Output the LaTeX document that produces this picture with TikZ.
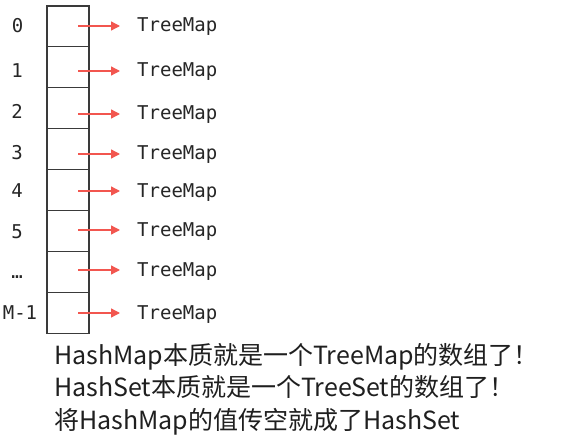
\documentclass[tikz,border=0pt]{standalone}
\usepackage{fontspec}
\setmonofont{DejaVu Sans Mono}
\newfontfamily\cjk{Noto Sans CJK SC}
\usepackage{xcolor}
\usepackage{tikz}
\usetikzlibrary{arrows.meta,positioning,calc}

\definecolor{cellgray}{HTML}{3A3A3A}
\definecolor{txtgray}{HTML}{262626}
\definecolor{ptrred}{HTML}{F2564F}

\tikzset{
	cell/.style={draw=cellgray, line width=1.2pt, fill=white, minimum width=42pt, minimum height=40.9pt, inner sep=0pt, outer sep=0pt},
	idx/.style={font=\ttfamily\fontsize{19}{19}\selectfont, text=txtgray, inner sep=0pt, text height=12pt, text depth=0pt},
	tmap/.style={font=\ttfamily\fontsize{19}{19}\selectfont, text=txtgray, inner sep=0pt, text height=12pt, text depth=0pt, anchor=west},
	ptr/.style={draw=ptrred, line width=1.3pt, -{Triangle[length=9pt,width=9pt]}, shorten <=10pt, shorten >=17pt},
	note/.style={font=\cjk\fontsize{25}{25}\selectfont, text=black!88, inner sep=0pt, anchor=base west}
}

\begin{document}
\begin{tikzpicture}[x=1pt, y=-1pt]
		\useasboundingbox[fill=white] (0,0) rectangle (565,441);
		% bucket array
		\node[cell] (c0) at (68,26.45) {};
		\node[cell] (c1) at (68,67.35) {};
		\node[cell] (c2) at (68,108.25) {};
		\node[cell] (c3) at (68,149.15) {};
		\node[cell] (c4) at (68,190.05) {};
		\node[cell] (c5) at (68,230.95) {};
		\node[cell] (c6) at (68,271.85) {};
		\node[cell] (c7) at (68,312.75) {};
		% indices
		\node[idx] (i0) at (17.5,27) {0};
		\node[idx] (i1) at (17,72) {1};
		\node[idx] (i2) at (17,113) {2};
		\node[idx] (i3) at (17,154) {3};
		\node[idx] (i4) at (17,191) {4};
		\node[idx] (i5) at (17,232) {5};
		\node[idx] (i6) at (17,272) {…};
		\node[idx] (i7) at (20,313) {M-1};
		% entries
		\node[tmap] (t0) at (137,26) {TreeMap};
		\node[tmap] (t1) at (137,71) {TreeMap};
		\node[tmap] (t2) at (137,114) {TreeMap};
		\node[tmap] (t3) at (137,154) {TreeMap};
		\node[tmap] (t4) at (137,191) {TreeMap};
		\node[tmap] (t5) at (137,230) {TreeMap};
		\node[tmap] (t6) at (137,270) {TreeMap};
		\node[tmap] (t7) at (137,313) {TreeMap};
		\draw[ptr] (t0.west -| c0.center) -- (t0.west);
		\draw[ptr] (t1.west -| c1.center) -- (t1.west);
		\draw[ptr] (t2.west -| c2.center) -- (t2.west);
		\draw[ptr] (t3.west -| c3.center) -- (t3.west);
		\draw[ptr] (t4.west -| c4.center) -- (t4.west);
		\draw[ptr] (t5.west -| c5.center) -- (t5.west);
		\draw[ptr] (t6.west -| c6.center) -- (t6.west);
		\draw[ptr] (t7.west -| c7.center) -- (t7.west);
		% notes
		\node[note] (n1) at (54,364) {HashMap本质就是一个TreeMap的数组了！};
		\node[note] (n2) at (54,396.5) {HashSet本质就是一个TreeSet的数组了！};
		\node[note] (n3) at (54,429) {将HashMap的值传空就成了HashSet};
	\end{tikzpicture}
\end{document}
